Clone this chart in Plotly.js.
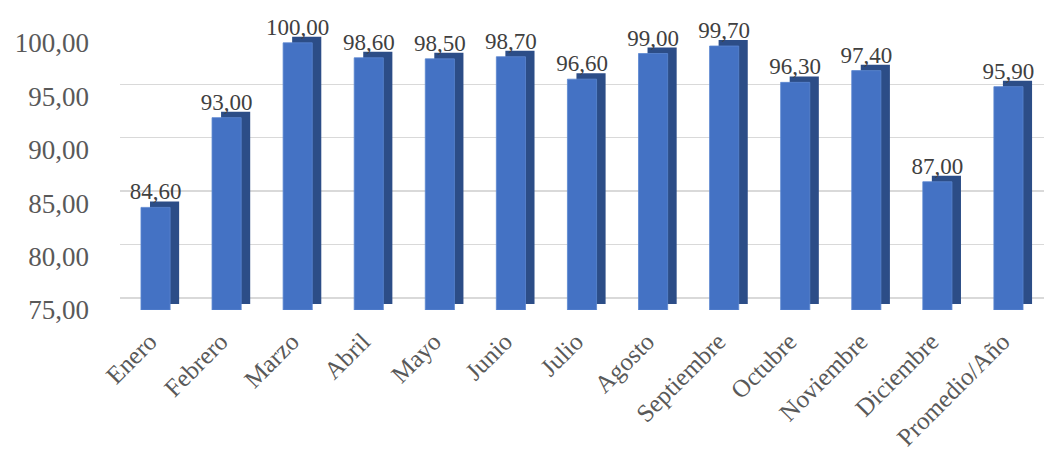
<!DOCTYPE html>
<html><head><meta charset="utf-8">
<script src="https://cdn.plot.ly/plotly-3.0.1.min.js"></script>
<style>body{margin:0;background:#fff}</style>
</head><body>
<div id="chart" style="width:1048px;height:456px"></div>
<script>
const categories = ["Enero","Febrero","Marzo","Abril","Mayo","Junio","Julio","Agosto","Septiembre","Octubre","Noviembre","Diciembre","Promedio/Año"];
const values = [84.6,93.0,100.0,98.6,98.5,98.7,96.6,99.0,99.7,96.3,97.4,87.0,95.9];
const tickValues = [75,80,85,90,95,100];
const tickLabels = ["75,00","80,00","85,00","90,00","95,00","100,00"];
const baseValue = 75;

const fmt = v => v.toFixed(2).replace('.', ',');
const depthY = 0.56; // depth of 3D effect in value units
const barW = 0.41;
const serif = 'Liberation Serif, Times New Roman, serif';

const sideTrace = {
  type: 'bar', x: categories, y: values.map(v => v - baseValue),
  base: values.map(() => baseValue + depthY),
  width: barW, offset: -barW/2 + 0.127,
  marker: {color: '#2C4D87', line: {width: 0}},
  hoverinfo: 'skip', showlegend: false, cliponaxis: false
};
const frontTrace = {
  type: 'bar', x: categories, y: values.map(v => v - baseValue),
  base: values.map(() => baseValue),
  width: barW, offset: -barW/2,
  marker: {color: '#4472C4', line: {color: '#5B86D0', width: 0.8}},
  text: values.map(fmt), textposition: 'outside', constraintext: 'none',
  textfont: {family: serif, size: 23, color: '#404040'},
  cliponaxis: false, showlegend: false
};
const gridTrace = {type: 'scatter', x: [categories[0]], y: [80], yaxis: 'y2', mode: 'markers', marker: {opacity: 0}, hoverinfo: 'skip', showlegend: false};

const layout = {
  width: 1048, height: 456,
  margin: {l: 120, r: 4, t: 30, b: 146},
  paper_bgcolor: '#fff', plot_bgcolor: 'rgba(0,0,0,0)',
  barmode: 'overlay', uniformtext: {mode: false},
  font: {family: serif, color: '#595959'},
  xaxis: {
    type: 'category', range: [-0.5, 12.5], showgrid: false, zeroline: false, showline: false,
    ticks: '', tickangle: -45, ticklabelstandoff: 11, ticklabelshift: -6,
    tickfont: {family: serif, size: 25, color: '#595959'}
  },
  yaxis: {
    range: [75, 101.2], showgrid: false, zeroline: false, showline: false, ticks: '',
    tickvals: tickValues, ticktext: tickLabels, ticklabelstandoff: 30,
    tickfont: {family: serif, size: 27, color: '#595959'}
  },
  yaxis2: {
    overlaying: 'y', range: [73.88, 100.08], showgrid: true, gridcolor: '#D9D9D9', gridwidth: 1.5,
    showticklabels: false, zeroline: false, showline: false, ticks: '', tickvals: tickValues, layer: 'below traces'
  }
};
Plotly.newPlot('chart', [gridTrace, sideTrace, frontTrace], layout, {displayModeBar: false, staticPlot: true});
</script>
</body></html>
